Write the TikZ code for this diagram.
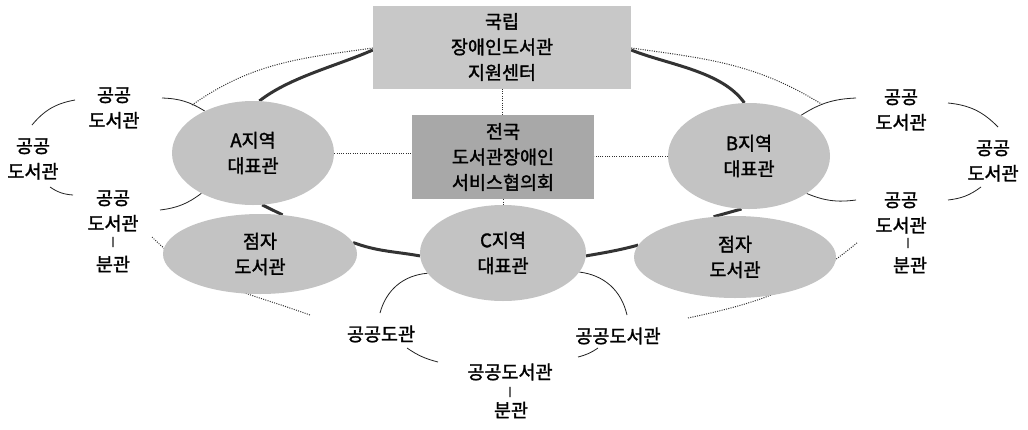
\documentclass[tikz,border=0pt]{standalone}
\usepackage{fontspec}
\setmainfont{Noto Sans CJK KR}[FakeBold=1.6]
\usetikzlibrary{shapes.geometric}
\pgfdeclarelayer{back}
\pgfdeclarelayer{bg}
\pgfsetlayers{back,bg,main}
\definecolor{boxT}{HTML}{C8C8C8}
\definecolor{boxM}{HTML}{A8A8A8}
\definecolor{ellc}{HTML}{C3C3C3}
\definecolor{ringc}{HTML}{333333}
\definecolor{dotc}{HTML}{303030}
\definecolor{arcc}{HTML}{222222}
\tikzset{
  txt/.style={font=\fontsize{18.5}{25.5}\selectfont, align=center, inner sep=0pt, text=black},
  barlbl/.style={font=\fontsize{9}{9}\selectfont, inner sep=0pt, text=black},
  topbox/.style={txt, rectangle, fill=boxT, minimum width=258pt, minimum height=83pt},
  midbox/.style={txt, rectangle, fill=boxM, minimum width=182pt, minimum height=84pt},
  reg/.style={txt, ellipse, fill=ellc},
  ringln/.style={draw=ringc, line width=3pt},
  dotln/.style={draw=dotc, line width=1pt, dash pattern=on 1pt off 1.3pt},
  thinln/.style={draw=arcc, line width=0.8pt}
}
\begin{document}
\begin{tikzpicture}[x=1pt,y=-1pt]
\begin{pgfonlayer}{back}
\fill[white] (0,0) rectangle (1028,429);
\end{pgfonlayer}
\useasboundingbox (0,0) rectangle (1028,429);

% main nodes
\node[topbox] (T) at (502,47) {국립\\장애인도서관\\지원센터};
\node[midbox] (M) at (503,157) {전국\\도서관장애인\\서비스협의회};
\node[reg, minimum width=162pt, minimum height=104pt] (A) at (253,153) {A지역\\대표관};
\node[reg, minimum width=162pt, minimum height=106pt] (B) at (749,156) {B지역\\대표관};
\node[reg, minimum width=166pt, minimum height=96pt] (C) at (503,253) {C지역\\대표관};
\node[reg, minimum width=194pt, minimum height=80pt] (L) at (260,254) {점자\\도서관};
\node[reg, minimum width=202pt, minimum height=82pt] (R) at (735,257) {점자\\도서관};

% left cluster labels
\node[txt] (lt) at (114,108) {공공\\도서관};
\node[txt] (ll) at (33,159) {공공\\도서관};
\node[txt] (lb) at (113,211) {공공\\도서관};
\node[barlbl] (lbar) at (113,242) {|};
\node[txt] (lbb) at (113,264) {분관};
% right cluster labels
\node[txt] (rt) at (901,110) {공공\\도서관};
\node[txt] (rr) at (993,161) {공공\\도서관};
\node[txt] (rb) at (901,213) {공공\\도서관};
\node[barlbl] (rbar) at (908,243) {|};
\node[txt] (rbb) at (910,265) {분관};
% C cluster labels
\node[txt] (cl) at (381,334) {공공도관};
\node[txt] (cr) at (618,336) {공공도서관};
\node[txt] (cb) at (510,372) {공공도서관};
\node[barlbl] (cbar) at (510,392) {|};
\node[txt] (cbb) at (511,410) {분관};

% free ends
\coordinate (dA) at (192,105);
\coordinate (dB) at (823,105);
\coordinate (dL1) at (152,237);
\coordinate (dL2) at (310,315);
\coordinate (dR1) at (688,318);
\coordinate (dR2) at (858,242);
\coordinate (la1) at (162,98);
\coordinate (la2) at (75,100);
\coordinate (la3) at (32,125);
\coordinate (la4) at (50,187);
\coordinate (la5) at (73,195);
\coordinate (la6) at (160,210);
\coordinate (rb1) at (856,98);
\coordinate (rb2) at (948,103);
\coordinate (rb3) at (998,127);
\coordinate (rb4) at (981,187);
\coordinate (rb5) at (948,200);
\coordinate (rb6) at (856,200);
\coordinate (cc1) at (380,313);
\coordinate (cc2) at (407,348);
\coordinate (cc3) at (438,362);
\coordinate (cc4) at (578,357);
\coordinate (cc5) at (598,348);
\coordinate (cc6) at (627,315);

\begin{pgfonlayer}{bg}
% dotted outer ring and links
\draw[dotln] ([yshift=-1pt]T.west) to[out=188,in=35] (dA);
\draw[dotln] ([yshift=-1pt]T.east) to[out=-8,in=148] (dB);
\draw[dotln] (dL1) to[out=-45,in=160] (dL2);
\draw[dotln] (dR1) to[out=12,in=-140] (dR2);
\draw[dotln] (T.south) -- (T.south |- M.north);
\draw[dotln] (M.south) -- (M.south |- C.north);
\draw[dotln] (A.east) -- (A.east -| M.west);
\draw[dotln] (B.west) -- (B.west -| M.east);
% thick ring
\draw[ringln] ([yshift=-3pt]T.west) to[out=204,in=38,looseness=0.8] (A.83);
\draw[ringln] (A.280) -- (L.60);
\draw[ringln] (L.7) to[out=-20,in=170] (C.182);
\draw[ringln] (C.-2) to[out=10,in=195] (R.173);
\draw[ringln] (R.118) -- (B.262);
\draw[ringln] (B.95) to[out=125,in=-22,looseness=0.8] ([yshift=-3pt]T.east);
% thin cluster arcs
\draw[thinln] (la1) to[bend left=15] (A.139);
\draw[thinln] (la2) to[bend right=20] (la3);
\draw[thinln] (la4) to[bend right=15] (la5);
\draw[thinln] (la6) to[bend right=15] (A.218);
\draw[thinln] (B.38) to[bend left=15] (rb1);
\draw[thinln] (rb2) to[bend left=20] (rb3);
\draw[thinln] (rb4) to[bend left=15] (rb5);
\draw[thinln] (rb6) to[bend left=15] (B.-33);
\draw[thinln] (C.195) to[bend right=35] (cc1);
\draw[thinln] (cc2) to[bend right=10] (cc3);
\draw[thinln] (cc4) to[bend right=10] (cc5);
\draw[thinln] (cc6) to[bend right=35] (C.-14);
\end{pgfonlayer}
\end{tikzpicture}
\end{document}
